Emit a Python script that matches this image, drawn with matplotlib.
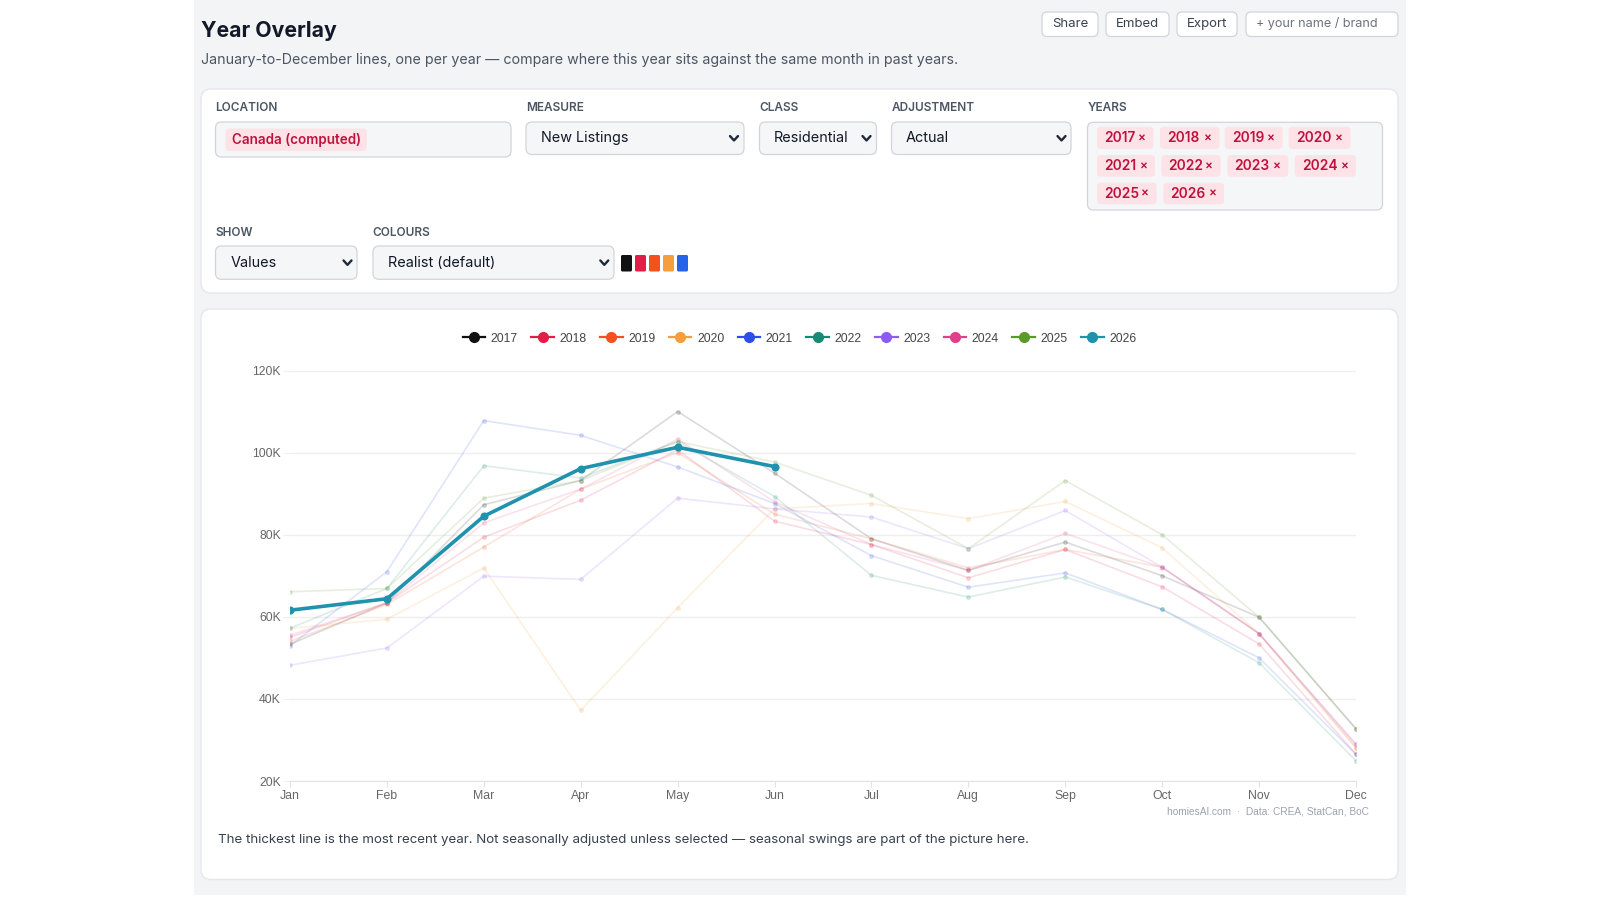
import matplotlib
matplotlib.use("Agg")
import matplotlib.pyplot as plt
from matplotlib.patches import FancyBboxPatch, Rectangle
from matplotlib.lines import Line2D
from matplotlib.ticker import FuncFormatter, MultipleLocator

# ---------------- data ----------------
months = ["Jan", "Feb", "Mar", "Apr", "May", "Jun", "Jul", "Aug", "Sep", "Oct", "Nov", "Dec"]
years = ["2017", "2018", "2019", "2020", "2021", "2022", "2023", "2024", "2025", "2026"]

v2017 = [53300, 63400, 87300, 93200, 110000, 95000, 79000, 71300, 78200, 70000, 59900, 32700]
v2018 = [55000, 63400, 79400, 88400, 100700, 83300, 77600, 69500, 76400, 67300, 53400, 26500]
v2019 = [54000, 63000, 77000, 91100, 100000, 85000, 79000, 71900, 76400, 72100, 55900, 28100]
v2020 = [57200, 59400, 71900, 37200, 62200, 86300, 87600, 83900, 88100, 76800, 55900, 28100]
v2021 = [53000, 71000, 107800, 104200, 96500, 87600, 74900, 67200, 70700, 61800, 50000, 26500]
v2022 = [57200, 66900, 96800, 93800, 102700, 89300, 70100, 64800, 69700, 61800, 48800, 24900]
v2023 = [48200, 52400, 69900, 69100, 88900, 86300, 84300, 76600, 85900, 72100, 55900, 28900]
v2024 = [55500, 63400, 82900, 91100, 103300, 88000, 77600, 71300, 80300, 72000, 55900, 28900]
v2025 = [66100, 66900, 88900, 93200, 102700, 97700, 89600, 76600, 93200, 80000, 59900, 32700]
v2026 = [61600, 64400, 84500, 96100, 101300, 96600]

series = {"2017": v2017, "2018": v2018, "2019": v2019, "2020": v2020, "2021": v2021,
          "2022": v2022, "2023": v2023, "2024": v2024, "2025": v2025, "2026": v2026}

year_colors = ["#111111", "#e11d48", "#f4511e", "#f59e3b", "#2b4fe8",
               "#178a74", "#8b5cf6", "#e0408a", "#5a9a2a", "#1f92ad"]
swatch_colors = ["#111111", "#e11d48", "#f4511e", "#f59e3b", "#2563eb"]

title = "Year Overlay"
subtitle = ("January-to-December lines, one per year \u2014 compare where this year sits "
            "against the same month in past years.")
footer = ("The thickest line is the most recent year. Not seasonally adjusted unless selected "
          "\u2014 seasonal swings are part of the picture here.")
credit = "homiesAI.com  \u00b7  Data: CREA, StatCan, BoC"

UI = ["Inter", "DejaVu Sans"]
CH = ["Liberation Sans", "DejaVu Sans"]

W, H = 1600, 900
fig = plt.figure(figsize=(16, 9), dpi=100, facecolor="white")

bg = fig.add_axes([0, 0, 1, 1], zorder=0)
bg.set_xlim(0, W)
bg.set_ylim(H, 0)
bg.axis("off")


def rbox(x0, y0, x1, y1, r, fc, ec="none", lw=1.0, z=1):
    p = FancyBboxPatch((x0, y0), x1 - x0, y1 - y0,
                       boxstyle=f"round,pad=0,rounding_size={r}",
                       fc=fc, ec=ec, lw=lw, zorder=z)
    bg.add_patch(p)
    return p


def chevron(cx, cy):
    bg.plot([cx - 4, cx, cx + 4], [cy - 2.2, cy + 2.2, cy - 2.2], color="#1f2937",
            lw=1.7, solid_capstyle="round", solid_joinstyle="round", zorder=5)


def txt(x, y, s, size, color="#111827", weight="normal", ha="left", fam=UI, **kw):
    bg.text(x, y, s, fontsize=size, color=color, fontweight=weight, ha=ha,
            va="center", family=fam, zorder=6, **kw)


# page background
bg.add_patch(Rectangle((194, 0), 1212, 895, fc="#f3f4f6", ec="none", zorder=0))

# header
txt(201, 31, title, 15.3, color="#111827", weight="bold")
txt(201, 60, subtitle, 10.25, color="#4b5563")

# buttons
for (x0, x1, lab) in [(1042, 1098, "Share"), (1106, 1169, "Embed"), (1177, 1237, "Export")]:
    rbox(x0, 12, x1, 36.5, 5, "white", "#d1d5db", 0.9, z=2)
    txt((x0 + x1) / 2, 24, lab, 9.5, color="#374151", ha="center")
rbox(1246, 12, 1398, 36.5, 5, "white", "#d1d5db", 0.9, z=2)
txt(1256, 24, "+ your name / brand", 9.1, color="#6b7280")

# controls card
rbox(201, 89, 1398, 293, 10, "white", "#e5e7eb", 1.0, z=1)

lab_kw = dict(size=8.5, color="#4b5563", weight="semibold")
for (x, y, s) in [(215.5, 108, "LOCATION"), (526, 108, "MEASURE"), (759.5, 108, "CLASS"),
                  (891.5, 108, "ADJUSTMENT"), (1088, 108, "YEARS"),
                  (215.5, 233.5, "SHOW"), (372.5, 233.5, "COLOURS")]:
    txt(x, y, s, **lab_kw)

field_fc = "#f5f6f8"
field_ec = "#d1d5db"
# location
rbox(215.5, 122, 511, 157, 6, field_fc, field_ec, 0.9, z=2)
rbox(225.5, 128.5, 367, 151, 4, "#fde3e8", "none", z=3)
txt(232.5, 140, "Canada (computed)", 9.7, color="#be123c", weight="semibold")

# selects
for (x0, x1, y0, y1, s, tx, chx) in [
        (526, 744, 122, 154.5, "New Listings", 541, 734),
        (759.5, 876.5, 122, 154.5, "Residential", 774, 866.5),
        (891.5, 1071, 122, 154.5, "Actual", 906, 1061.5),
        (215.5, 357, 246, 279.3, "Values", 231, 347.5),
        (373, 614, 246, 279.3, "Realist (default)", 387.5, 604.3)]:
    rbox(x0, y0, x1, y1, 6, field_fc, field_ec, 0.9, z=2)
    txt(tx, (y0 + y1) / 2, s, 10.4, color="#111827")
    chevron(chx, (y0 + y1) / 2)

# colour swatches
for i, c in enumerate(swatch_colors):
    x0 = 621 + i * 14
    rbox(x0, 255, x0 + 11, 271.5, 1.5, c, "none", z=3)

# years box
rbox(1087.5, 122.3, 1382.5, 210, 6, field_fc, field_ec, 0.9, z=2)
pill_rows = [(126.8, 149), (155, 176.8), (182.7, 204.3)]
pill_x = [[(1097, 1153.5), (1160, 1219.5), (1224.7, 1282.7), (1288.7, 1350.7)],
          [(1097, 1155), (1161.3, 1220.7), (1227.3, 1288.3), (1294.7, 1356)],
          [(1097, 1156.7), (1163.3, 1224)]]
k = 0
for r, row in enumerate(pill_x):
    y0, y1 = pill_rows[r]
    for (x0, x1) in row:
        rbox(x0, y0, x1, y1, 4, "#fde3e8", "none", z=3)
        txt(x0 + 7, (y0 + y1) / 2, years[k], 9.9, color="#be123c", weight="semibold")
        txt(x1 - 7.5, (y0 + y1) / 2 + 0.5, "\u00d7", 8.5, color="#be123c",
            weight="semibold", ha="right")
        k += 1

# chart card
rbox(201, 309, 1398, 879.5, 10, "white", "#e5e7eb", 1.0, z=1)
txt(218, 840.5, footer, 9.6, color="#374151")
txt(1369, 812, credit, 7.3, color="#9ca3af", ha="right", fam=CH)

# ---------------- chart ----------------
x0p, x1p, ytop, ybot = 290, 1356, 370.5, 781
ax = fig.add_axes([x0p / W, 1 - ybot / H, (x1p - x0p) / W, (ybot - ytop) / H], zorder=3)
ax.set_facecolor("none")
xs = list(range(len(months)))

for i, yr in enumerate(years):
    vals = series[yr]
    if yr == years[-1]:
        ax.plot(xs[:len(vals)], vals, color=year_colors[i], lw=2.6, marker="o",
                markersize=4.8, zorder=10, solid_capstyle="round")
    else:
        ax.plot(xs[:len(vals)], vals, color=year_colors[i], lw=1.2, alpha=0.15,
                marker="o", markersize=2.6, zorder=4)

ax.set_xlim(0, 11)
ax.set_ylim(20000, 120000)
ax.set_xticks(xs)
ax.set_xticklabels(months)
ax.yaxis.set_major_locator(MultipleLocator(20000))
ax.yaxis.set_major_formatter(FuncFormatter(lambda v, p: f"{int(v / 1000)}K"))
ax.grid(axis="y", color="#efefef", lw=1.0, zorder=0)
ax.set_axisbelow(True)
for s in ["top", "right", "left"]:
    ax.spines[s].set_visible(False)
ax.spines["bottom"].set_color("#e3e3e3")
ax.tick_params(axis="x", length=4, color="#e3e3e3", pad=2.8, labelsize=8.8,
               labelcolor="#666666")
ax.tick_params(axis="y", length=5, color="#efefef", pad=1.5, labelsize=8.8,
               labelcolor="#666666")
for lab in ax.get_xticklabels() + ax.get_yticklabels():
    lab.set_family(CH)

handles = [Line2D([0], [0], color=c, lw=1.6, marker="o", markersize=7) for c in year_colors]
leg = fig.legend(handles, years, ncol=len(years), loc="center",
                 bbox_to_anchor=(799.5 / W, 1 - 338.5 / H), frameon=False,
                 prop={"family": CH, "size": 8.8}, handlelength=1.85, handletextpad=0.45,
                 columnspacing=1.1)
for t in leg.get_texts():
    t.set_color("#444444")

fig.savefig("out.png", dpi=100, facecolor="white")
